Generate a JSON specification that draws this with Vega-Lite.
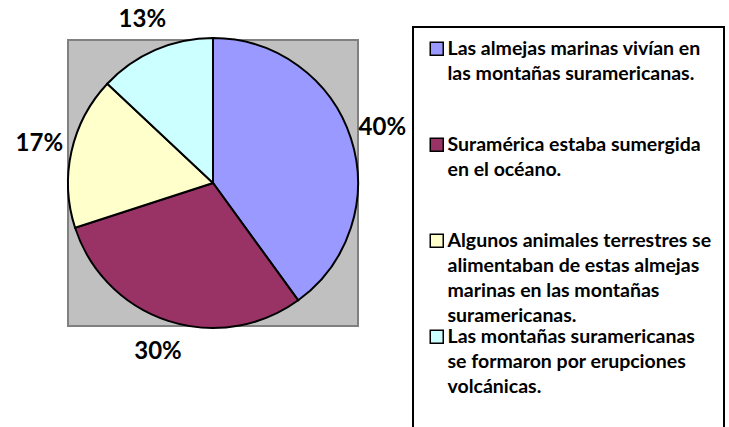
{
  "$schema": "https://vega.github.io/schema/vega-lite/v6.json",
  "width": 290,
  "height": 286,
  "autosize": {"type": "none"},
  "padding": {"left": 68, "top": 40, "right": 371, "bottom": 101},
  "background": "white",
  "datasets": {
    "respuestas": [
      {"orden": 1, "respuesta": "Las almejas marinas vivían en las montañas suramericanas.", "valor": 0.40},
      {"orden": 2, "respuesta": "Suramérica estaba sumergida en el océano.", "valor": 0.30},
      {"orden": 3, "respuesta": "Algunos animales terrestres se alimentaban de estas almejas marinas en las montañas suramericanas.", "valor": 0.17},
      {"orden": 4, "respuesta": "Las montañas suramericanas se formaron por erupciones volcánicas.", "valor": 0.13}
    ],
    "fondo": [{"area": "grafico"}]
  },
  "layer": [
    {
      "data": {"name": "fondo"},
      "mark": {"type": "rect", "color": "#c0c0c0", "stroke": "#808080", "strokeWidth": 2},
      "encoding": {}
    },
    {
      "data": {"name": "respuestas"},
      "mark": {"type": "arc", "stroke": "black", "strokeWidth": 2, "radius": 145},
      "encoding": {
        "theta": {"field": "valor", "type": "quantitative", "stack": true},
        "order": {"field": "orden", "type": "quantitative", "sort": "ascending"},
        "color": {
          "field": "respuesta",
          "type": "nominal",
          "sort": null,
          "scale": {
            "domain": [
              "Las almejas marinas vivían en las montañas suramericanas.",
              "Suramérica estaba sumergida en el océano.",
              "Algunos animales terrestres se alimentaban de estas almejas marinas en las montañas suramericanas.",
              "Las montañas suramericanas se formaron por erupciones volcánicas."
            ],
            "range": ["#9999ff", "#993366", "#ffffcc", "#ccffff"]
          },
          "legend": {
            "title": null,
            "orient": "none",
            "legendX": 345,
            "legendY": -13,
            "padding": 12,
            "fillColor": "white",
            "strokeColor": "black",
            "gridAlign": "all",
            "rowPadding": 0,
            "symbolType": "square",
            "symbolSize": 169,
            "symbolStrokeColor": "black",
            "symbolStrokeWidth": 1.5,
            "symbolOpacity": 1,
            "symbolOffset": 2,
            "labelFont": "Lato",
            "labelFontWeight": "bold",
            "labelFontSize": 19.5,
            "labelColor": "black",
            "labelLimit": 0,
            "labelOffset": 1,
            "labelExpr": "indexof(datum.value, 'almejas marinas viv') >= 0 ? ['Las almejas marinas vivían en', 'las montañas suramericanas.'] : indexof(datum.value, 'sumergida') >= 0 ? ['Suramérica estaba sumergida', 'en el océano.'] : indexof(datum.value, 'Algunos') >= 0 ? ['Algunos animales terrestres se', 'alimentaban de estas almejas', 'marinas en las montañas', 'suramericanas.'] : ['Las montañas suramericanas', 'se formaron por erupciones', 'volcánicas.', '']",
            "encode": {
              "legend": {"update": {"strokeWidth": {"value": 2}}},
              "labels": {"update": {"lineHeight": {"value": 25}}}
            }
          }
        }
      }
    },
    {
      "data": {"name": "respuestas"},
      "mark": {"type": "text", "radius": 178, "font": "Lato", "fontWeight": "bold", "fontSize": 24, "color": "black"},
      "encoding": {
        "theta": {"field": "valor", "type": "quantitative", "stack": true},
        "order": {"field": "orden", "type": "quantitative", "sort": "ascending"},
        "detail": {"field": "respuesta", "type": "nominal"},
        "text": {"field": "valor", "type": "quantitative", "format": ".0%"}
      }
    }
  ],
  "config": {
    "view": {"stroke": null}
  }
}
